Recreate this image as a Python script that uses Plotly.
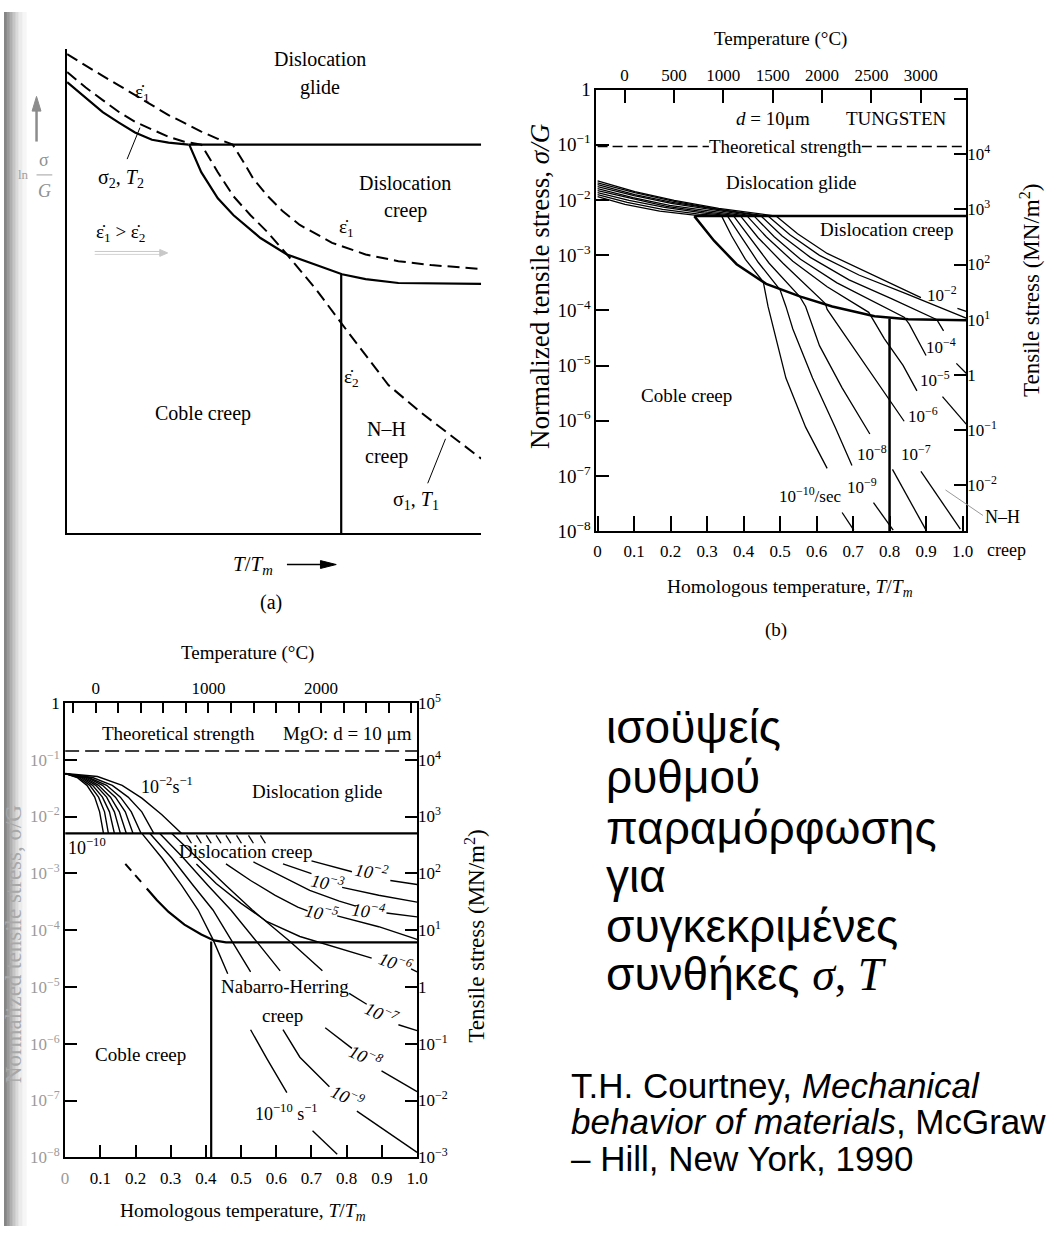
import plotly.graph_objects as go

W, H = 1060, 1237
SERIF = "Liberation Serif"
SANS = "Liberation Sans"

# ============================ DATA ============================
# ---- Panel (a): schematic map, arbitrary units (x = T/Tm, y = ln sigma/G) ----
A_GLIDE_X = [0.293, 1.0]
A_GLIDE_Y = [0.803, 0.803]
A_LOWGLIDE_X = [0, 0.045, 0.086, 0.126, 0.164, 0.205, 0.245, 0.293]
A_LOWGLIDE_Y = [0.932, 0.899, 0.870, 0.848, 0.828, 0.813, 0.807, 0.803]
A_CREEPB_X = [0.295, 0.324, 0.364, 0.402, 0.467, 0.531, 0.602, 0.664, 0.721, 0.8, 1.0]
A_CREEPB_Y = [0.803, 0.746, 0.692, 0.657, 0.610, 0.576, 0.554, 0.535, 0.525, 0.517, 0.515]
A_NHB_X = [0.662, 0.662]
A_NHB_Y = [0.0, 0.535]
A_RATE1_X = [0, 0.045, 0.086, 0.126, 0.164, 0.205, 0.245, 0.283, 0.324, 0.364, 0.4,
             0.426, 0.45, 0.483, 0.521, 0.562, 0.640, 0.721, 0.8, 0.879, 1.0]
A_RATE1_Y = [0.990, 0.966, 0.945, 0.925, 0.905, 0.884, 0.864, 0.848, 0.830, 0.815, 0.803,
             0.767, 0.732, 0.698, 0.665, 0.637, 0.600, 0.576, 0.562, 0.554, 0.546]
A_RATE2_X = [0, 0.045, 0.086, 0.126, 0.164, 0.205, 0.245, 0.283, 0.324,
             0.364, 0.402, 0.443, 0.483, 0.531, 0.602, 0.664, 0.721, 0.776, 0.855, 0.912, 1.0]
A_RATE2_Y = [0.953, 0.921, 0.895, 0.870, 0.850, 0.834, 0.819, 0.809, 0.803,
             0.746, 0.696, 0.657, 0.623, 0.576, 0.503, 0.432, 0.367, 0.306, 0.249, 0.211, 0.154]

# ---- Panel (b): tungsten, d = 10 um (x = T/Tm, e = log10 sigma/G) ----
TM_W = 3695.0            # K
LOG_G_W = 5.17           # log10 G in MN/m2
B_TEMP_TICKS = [0, 500, 1000, 1500, 2000, 2500, 3000]
B_TT_TICKS = [0, 0.1, 0.2, 0.3, 0.4, 0.5, 0.6, 0.7, 0.8, 0.9, 1.0]
B_TT_TEXT = ["0", "0.1", "0.2", "0.3", "0.4", "0.5", "0.6", "0.7", "0.8", "0.9", "1.0"]
B_GB_X = [0.265, 1.01]
B_GB_E = [-2.293, -2.293]
B_CB_X = [0.265, 0.319, 0.381, 0.462, 0.556, 0.643, 0.759, 0.851, 1.01]
B_CB_E = [-2.293, -2.738, -3.164, -3.52, -3.751, -3.929, -4.107, -4.16, -4.178]
B_NH_X = [0.8, 0.8]
B_NH_E = [-4.15, -8.0]
B_THEO_X = [[0, 0.305], [0.724, 1.01]]
B_THEO_E = -1.031
B_GLIDE_X = [
    [0, 0.075, 0.170, 0.265, 0.340],
    [0, 0.081, 0.178, 0.278, 0.356],
    [0, 0.086, 0.184, 0.292, 0.373],
    [0, 0.092, 0.189, 0.300, 0.392],
    [0, 0.097, 0.197, 0.311, 0.410],
    [0, 0.100, 0.202, 0.319, 0.429],
    [0, 0.102, 0.205, 0.324, 0.448],
    [0, 0.102, 0.210, 0.332, 0.467],
    [0, 0.102, 0.210, 0.332, 0.489],
]
B_GLIDE_E = [
    [-1.938, -2.080, -2.204, -2.276, -2.293],
    [-1.902, -2.044, -2.169, -2.258, -2.293],
    [-1.867, -2.009, -2.133, -2.240, -2.293],
    [-1.831, -1.973, -2.116, -2.222, -2.293],
    [-1.796, -1.956, -2.098, -2.204, -2.293],
    [-1.760, -1.920, -2.062, -2.187, -2.293],
    [-1.724, -1.902, -2.044, -2.169, -2.293],
    [-1.689, -1.867, -2.027, -2.169, -2.293],
    [-1.653, -1.849, -2.009, -2.151, -2.293],
]
B_UP_X = [
    [0.34, 0.367, 0.405, 0.454, 0.467, 0.484, 0.516, 0.57, 0.629],
    [0.356, 0.392, 0.44, 0.5, 0.516, 0.535, 0.589, 0.651, 0.697],
    [0.373, 0.413, 0.47, 0.554, 0.57, 0.608, 0.67, 0.746],
    [0.392, 0.44, 0.508, 0.575, 0.624, 0.629, 0.697, 0.77, 0.84],
    [0.41, 0.462, 0.535, 0.629, 0.743, 0.786, 0.837, 0.875],
    [0.429, 0.484, 0.556, 0.656, 0.84, 0.854, 0.9],
    [0.448, 0.505, 0.583, 0.689, 0.805, 0.927, 0.932, 0.948],
    [0.467, 0.527, 0.608, 0.716, 0.845, 1.01],
    [0.489, 0.548, 0.629, 0.738, 0.886],
]
B_UP_E = [
    [-2.293, -2.649, -3.076, -3.484, -3.929, -4.373, -5.227, -6.116, -6.862],
    [-2.293, -2.649, -3.129, -3.627, -3.929, -4.338, -5.227, -6.116, -6.809],
    [-2.293, -2.649, -3.147, -3.751, -3.929, -4.64, -5.404, -6.24],
    [-2.293, -2.684, -3.147, -3.573, -3.876, -3.982, -4.64, -5.351, -6.009],
    [-2.293, -2.667, -3.111, -3.573, -4.036, -4.516, -4.996, -5.458],
    [-2.293, -2.667, -3.076, -3.502, -4.124, -4.249, -4.818],
    [-2.293, -2.649, -3.04, -3.449, -3.787, -4.16, -4.196, -4.373],
    [-2.293, -2.631, -3.004, -3.36, -3.698, -4.142],
    [-2.293, -2.613, -2.969, -3.307, -3.769],
]
B_LO_X = [[0.67, 0.702], [0.756, 0.81], [0.808, 0.9], [0.886, 0.994], [0.945, 1.01],
          [0.983, 1.01], [], [], [0.986, 1.01]]
B_LO_E = [[-7.662, -7.982], [-7.484, -7.982], [-6.88, -7.982], [-6.916, -7.964], [-5.564, -6.062],
          [-4.96, -5.138], [], [], [-3.964, -4.018]]
B_RATE_LABELS = ["10<sup>−2</sup>", "10<sup>−4</sup>", "10<sup>−5</sup>", "10<sup>−6</sup>",
                 "10<sup>−7</sup>", "10<sup>−8</sup>", "10<sup>−9</sup>", "10<sup>−10</sup>/sec"]
B_RATE_LX = [0.945, 0.94, 0.924, 0.891, 0.872, 0.751, 0.724, 0.583]
B_RATE_LE = [-3.698, -4.64, -5.244, -5.902, -6.578, -6.578, -7.182, -7.342]

# ---- Panel (c): MgO, d = 10 um ----
TM_MGO = 3125.0          # K
LOG_G_MGO = 5.0
C_TEMP_LABELED = [0, 1000, 2000]
C_TEMP_MINOR = [-200, 200, 400, 600, 800, 1200, 1400, 1600, 1800, 2200, 2400, 2600, 2800]
C_THEO_X = [0, 1.0]
C_THEO_E = [-0.847, -0.847]
C_GB_X = [0, 1.0]
C_GB_E = [-2.298, -2.298]
C_CBD_X = [0.171, 0.227]
C_CBD_E = [-2.834, -3.231]
C_CB_X = [0.232, 0.261, 0.294, 0.339, 0.387, 0.423, 0.457, 1.0]
C_CB_E = [-3.266, -3.473, -3.68, -3.905, -4.078, -4.181, -4.216, -4.216]
C_NH_X = [0.415, 0.415]
C_NH_E = [-4.2, -8.0]
C_FAN_X = [
    [0, 0.034, 0.062, 0.084, 0.098, 0.109],
    [0, 0.039, 0.070, 0.095, 0.112, 0.123],
    [0, 0.045, 0.078, 0.106, 0.126, 0.140],
    [0, 0.050, 0.087, 0.118, 0.140, 0.157],
    [0, 0.056, 0.095, 0.129, 0.154, 0.174],
    [0, 0.062, 0.106, 0.143, 0.171, 0.193],
    [0, 0.067, 0.118, 0.157, 0.188, 0.216],
    [0, 0.078, 0.134, 0.179, 0.218, 0.252],
    [0, 0.092, 0.162, 0.218, 0.275, 0.331],
]
C_FAN_E = [
    [-1.244, -1.313, -1.451, -1.659, -1.918, -2.298],
    [-1.244, -1.313, -1.451, -1.659, -1.918, -2.298],
    [-1.244, -1.313, -1.451, -1.659, -1.918, -2.298],
    [-1.244, -1.313, -1.451, -1.659, -1.918, -2.298],
    [-1.244, -1.313, -1.451, -1.659, -1.918, -2.298],
    [-1.244, -1.313, -1.451, -1.659, -1.918, -2.298],
    [-1.244, -1.313, -1.451, -1.659, -1.918, -2.298],
    [-1.244, -1.313, -1.451, -1.659, -1.918, -2.298],
    [-1.244, -1.296, -1.451, -1.676, -1.970, -2.298],
]
C_HASH_X0 = [0.345, 0.373, 0.401, 0.429, 0.457, 0.487, 0.521, 0.555]
C_HASH_X1 = [0.359, 0.387, 0.415, 0.443, 0.471, 0.501, 0.535, 0.569]
C_HASH_E = [-2.333, -2.471]
C_STEEP_X = [
    [0.218, 0.275, 0.331, 0.378, 0.42, 0.462],
    [0.241, 0.303, 0.364, 0.42, 0.476, 0.527],
    [0.269, 0.336, 0.406, 0.471, 0.546, 0.611],
    [0.303, 0.375, 0.457, 0.532, 0.639, 0.731],
]
C_STEEP_E = [
    [-2.298, -2.73, -3.214, -3.646, -4.164, -4.769],
    [-2.298, -2.73, -3.214, -3.646, -4.216, -4.734],
    [-2.298, -2.73, -3.214, -3.646, -4.216, -4.717],
    [-2.298, -2.73, -3.214, -3.646, -4.199, -4.717],
]
C_SEG_X = [
    [0.373, 0.429, 0.499, 0.574, 0.667, 0.759, 0.871], [0.983, 1.0],
    [0.457, 0.527, 0.597, 0.661, 0.689], [0.773, 0.891, 1.0],
    [0.535, 0.611, 0.695, 0.779, 0.826], [0.913, 1.0],
    [0.619, 0.7], [0.787, 0.891, 1.0],
    [0.7, 0.815], [0.924, 1.0],
    [0.807, 0.857], [0.947, 1.0],
    [0.739, 0.815], [0.899, 1.0],
    [0.619, 0.667, 0.751], [0.829, 0.919, 1.0],
    [0.527, 0.574, 0.63], [0.703, 0.773],
]
C_SEG_E = [
    [-2.834, -3.179, -3.525, -3.853, -4.112, -4.285, -4.492], [-4.683, -4.734],
    [-2.834, -3.127, -3.387, -3.594, -3.663], [-3.749, -3.94, -4.164],
    [-2.799, -3.041, -3.3, -3.49, -3.577], [-3.698, -3.767],
    [-2.834, -3.006], [-3.248, -3.387, -3.508],
    [-2.782, -2.972], [-3.127, -3.197],
    [-5.114, -5.305], [-5.667, -5.771],
    [-5.719, -6.082], [-6.479, -6.842],
    [-5.754, -6.238, -6.756], [-7.188, -7.568, -7.914],
    [-5.754, -6.272, -6.86], [-7.534, -7.948],
]
C_RATE_LABELS = ["10<sup>−2</sup>", "10<sup>−3</sup>", "10<sup>−4</sup>", "10<sup>−5</sup>",
                 "10<sup>−6</sup>", "10<sup>−7</sup>", "10<sup>−8</sup>", "10<sup>−9</sup>"]
C_RATE_LX = [0.871, 0.745, 0.863, 0.728, 0.938, 0.899, 0.854, 0.801]
C_RATE_LE = [-2.972, -3.162, -3.646, -3.698, -4.562, -5.46, -6.22, -6.93]
C_RATE_ANG = [10, 12, 8, 12, 20, 25, 25, 25]

DECADES = [0, -1, -2, -3, -4, -5, -6, -7, -8]

GREEK_LINES = ["ισοϋψείς", "ρυθμού", "παραμόρφωσης", "για", "συγκεκριμένες"]
CITATION = ["T.H. Courtney, <i>Mechanical</i>", "<i>behavior of materials</i>, McGraw",
            "– Hill, New York, 1990"]

# ============================ FIGURE ============================
fig = go.Figure()
anns = []
shapes = []


def line(xs, ys, xa, ya, w=1.5, dash=None, color="black", log=False):
    yy = [10 ** v for v in ys] if log else list(ys)
    fig.add_trace(go.Scatter(x=list(xs), y=yy, mode="lines",
                             line=dict(color=color, width=w, dash=dash),
                             xaxis=xa, yaxis=ya, hoverinfo="skip", showlegend=False))


def note(text, x, y, xref, yref, size=19, angle=0, color="black", family=SERIF, xanchor="center"):
    anns.append(dict(text=text, x=x, y=y, xref=xref, yref=yref, showarrow=False,
                     font=dict(size=size, color=color, family=family), textangle=angle,
                     xanchor=xanchor, yanchor="middle"))


def pnote(text, X, Y, **kw):
    note(text, X / W, 1 - Y / H, "paper", "paper", **kw)


def P(X, Y):
    return "%.5f %.5f" % (X / W, 1 - Y / H)


def pline(x0, y0, x1, y1, color="black", width=1):
    shapes.append(dict(type="line", xref="paper", yref="paper", x0=x0 / W, y0=1 - y0 / H,
                       x1=x1 / W, y1=1 - y1 / H, line=dict(color=color, width=width)))


def ptri(pts, color):
    path = "M " + " L ".join(P(a, b) for a, b in pts) + " Z"
    shapes.append(dict(type="path", xref="paper", yref="paper", path=path,
                       fillcolor=color, line=dict(color=color, width=1)))


# page shadow at the left edge (scan binding)
for x0, x1, col in [(0, 3, "#858585"), (3, 6, "#9a9a9a"), (6, 9, "#b0b0b0"), (9, 12, "#c6c6c6"),
                    (12, 15, "#dadada"), (15, 19, "#ebebeb"), (19, 23, "#f6f6f6")]:
    shapes.append(dict(type="rect", xref="paper", yref="paper", x0=x0 / W, x1=x1 / W, y0=0, y1=1,
                       fillcolor=col, line=dict(width=0), layer="below"))

# ---------------- panel (a) ----------------
DA = "12px,6px"
line(A_GLIDE_X, A_GLIDE_Y, "x", "y", w=2.2)
line(A_LOWGLIDE_X, A_LOWGLIDE_Y, "x", "y", w=2.2)
line(A_CREEPB_X, A_CREEPB_Y, "x", "y", w=2.2)
line(A_NHB_X, A_NHB_Y, "x", "y", w=2.2)
line(A_RATE1_X, A_RATE1_Y, "x", "y", w=2, dash=DA)
line(A_RATE2_X, A_RATE2_Y, "x", "y", w=2, dash=DA)
shapes.append(dict(type="line", xref="x", yref="y", x0=0.145, y0=0.773, x1=0.176, y1=0.838,
                   line=dict(color="black", width=1)))
shapes.append(dict(type="line", xref="x", yref="y", x0=0.871, y0=0.103, x1=0.914, y1=0.195,
                   line=dict(color="black", width=1)))
EDOT = "ε\u0307"
note("Dislocation", 0.61, 0.98, "x", "y", size=20)
note("glide", 0.61, 0.921, "x", "y", size=20)
note(EDOT + "<sub>1</sub>", 0.181, 0.909, "x", "y")
note("σ<sub>2</sub>, <i>T</i><sub>2</sub>", 0.129, 0.732, "x", "y", size=20)
note("Dislocation", 0.817, 0.724, "x", "y", size=20)
note("creep", 0.817, 0.667, "x", "y", size=20)
note(EDOT + "<sub>1</sub>", 0.674, 0.631, "x", "y")
note(EDOT + "<sub>1</sub> > " + EDOT + "<sub>2</sub>", 0.129, 0.621, "x", "y")
note(EDOT + "<sub>2</sub>", 0.686, 0.32, "x", "y")
note("Coble creep", 0.329, 0.247, "x", "y", size=20)
note("N–H", 0.771, 0.215, "x", "y", size=20)
note("creep", 0.771, 0.158, "x", "y", size=20)
note("σ<sub>1</sub>, <i>T</i><sub>1</sub>", 0.843, 0.067, "x", "y", size=20)
# faint double underline arrow below the rate inequality
pline(92, 244, 160, 244, color="#c8c8c8", width=1)
pline(92, 247, 160, 247, color="#d4d4d4", width=1)
ptri([(158, 242), (166, 245.5), (158, 249)], "#c8c8c8")
pnote("<i>T</i>/<i>T<sub>m</sub></i>", 253, 563, size=21)
pline(287, 563, 324, 563, color="black", width=1.5)
ptri([(321, 559), (337, 563), (321, 567)], "black")
pnote("(a)", 271, 602, size=20)
# ln sigma/G (faint, grey)
pline(33, 132, 33, 100, color="#8c8c8c", width=2.5)
ptri([(28.5, 101), (33, 86), (37.5, 101)], "#8c8c8c")
pnote("ln", 20, 166, size=13, color="#a0a0a0")
pnote("σ", 41, 151, size=18, color="#909090")
pnote("<i>G</i>", 41, 182, size=18, color="#909090")
pline(33, 166, 49, 166, color="#a0a0a0", width=1)

# ---------------- panel (b) ----------------
line(B_GB_X, B_GB_E, "x2", "y2", w=2.5, log=True)
line(B_CB_X, B_CB_E, "x2", "y2", w=2.5, log=True)
line(B_NH_X, B_NH_E, "x2", "y2", w=2.5, log=True)
for seg in B_THEO_X:
    line(seg, [B_THEO_E, B_THEO_E], "x2", "y2", w=1.5, dash="10px,5px", log=True)
for xs, es in zip(B_GLIDE_X, B_GLIDE_E):
    line(xs, es, "x2", "y2", w=1.3, log=True)
for xs, es in zip(B_UP_X, B_UP_E):
    line(xs, es, "x2", "y2", w=1.3, log=True)
for xs, es in zip(B_LO_X, B_LO_E):
    if xs:
        line(xs, es, "x2", "y2", w=1.3, log=True)
fig.add_trace(go.Scatter(x=[None], y=[None], xaxis="x3", yaxis="y3", showlegend=False, hoverinfo="skip"))
note("<i>d</i> = 10μm", 0.48, -0.516, "x2", "y2")
note("TUNGSTEN", 0.818, -0.516, "x2", "y2")
note("Theoretical strength", 0.516, -1.04, "x2", "y2")
note("Dislocation glide", 0.529, -1.689, "x2", "y2")
note("Dislocation creep", 0.791, -2.542, "x2", "y2")
note("Coble creep", 0.243, -5.547, "x2", "y2")
for t, x, e in zip(B_RATE_LABELS, B_RATE_LX, B_RATE_LE):
    note(t, x, e, "x2", "y2", size=17)
pnote("Temperature (°C)", 788, 28, size=19)
pnote("Normalized tensile stress, <i>σ/G</i>", 543, 280, size=27, angle=-90)
pnote("Tensile stress (MN/m<sup>2</sup>)", 1041, 284, size=23, angle=-90)
pnote("Homologous temperature, <i>T</i>/<i>T<sub>m</sub></i>", 797, 587, size=19.5)
pnote("(b)", 783, 630, size=19)
pnote("N–H", 1013, 515, size=18)
pnote("creep", 1017, 548, size=18)
pline(955, 487, 993, 513, color="#999999", width=1)

# ---------------- panel (c) ----------------
line(C_THEO_X, C_THEO_E, "x4", "y4", w=1.5, dash="14px,6px", log=True)
line(C_GB_X, C_GB_E, "x4", "y4", w=2.2, log=True)
line(C_CBD_X, C_CBD_E, "x4", "y4", w=2.0, dash="9px,6px", log=True)
line(C_CB_X, C_CB_E, "x4", "y4", w=2.2, log=True)
line(C_NH_X, C_NH_E, "x4", "y4", w=2.2, log=True)
for xs, es in zip(C_FAN_X, C_FAN_E):
    line(xs, es, "x4", "y4", w=1.4, log=True)
for a, b in zip(C_HASH_X0, C_HASH_X1):
    line([a, b], C_HASH_E, "x4", "y4", w=1.3, log=True)
for xs, es in zip(C_STEEP_X, C_STEEP_E):
    line(xs, es, "x4", "y4", w=1.4, log=True)
for xs, es in zip(C_SEG_X, C_SEG_E):
    line(xs, es, "x4", "y4", w=1.4, log=True)
fig.add_trace(go.Scatter(x=[None], y=[None], xaxis="x5", yaxis="y5", showlegend=False, hoverinfo="skip"))
note("Theoretical strength", 0.322, -0.536, "x4", "y4")
note("MgO: d = 10 μm", 0.801, -0.536, "x4", "y4")
note("10<sup>−2</sup>s<sup>−1</sup>", 0.289, -1.451, "x4", "y4", size=18)
note("Dislocation glide", 0.717, -1.555, "x4", "y4")
note("10<sup>−10</sup>", 0.062, -2.523, "x4", "y4", size=18)
note("Dislocation creep", 0.513, -2.609, "x4", "y4")
note("Nabarro-Herring", 0.625, -4.994, "x4", "y4")
note("creep", 0.619, -5.495, "x4", "y4")
note("Coble creep", 0.213, -6.186, "x4", "y4")
note("10<sup>−10</sup> s<sup>−1</sup>", 0.63, -7.205, "x4", "y4", size=18)
for t, x, e, a in zip(C_RATE_LABELS, C_RATE_LX, C_RATE_LE, C_RATE_ANG):
    note("<i>" + t + "</i>", x, e, "x4", "y4", size=18, angle=a)
pnote("Temperature (°C)", 247, 653, size=19)
pnote("Tensile stress (MN/m<sup>2</sup>)", 478, 942, size=23, angle=-90)
pnote("Homologous temperature, <i>T</i>/<i>T<sub>m</sub></i>", 242, 1223, size=19.5)
pnote("Normalized tensile stress, σ/G", 9, 950, size=23, angle=-90, color="#a8a8a8")

# ---------------- text block ----------------
GREEK_Y = [729, 779, 831, 880, 931]
for t, y in zip(GREEK_LINES, GREEK_Y):
    pnote(t, 609, y, size=46, family=SANS, xanchor="left")
pnote("συνθήκες <span style=\"font-family:Liberation Serif\"><i>σ</i>, <i>T</i></span>", 609, 980,
      size=46, family=SANS, xanchor="left")
for t, y in zip(CITATION, [1094, 1131, 1168]):
    pnote(t, 573, y, size=35, family=SANS, xanchor="left")


# ---------------- axes ----------------
def ax(**kw):
    d = dict(showgrid=False, zeroline=False, linecolor="black", tickcolor="black",
             tickfont=dict(family=SERIF, size=17, color="black"))
    d.update(kw)
    return d


def sup(k):
    return "1" if k == 0 else "10<sup>" + ("−" if k < 0 else "") + str(abs(k)) + "</sup>"


def grey(s):
    return '<span style="color:#9a9a9a">' + s + "</span>"


layout = dict(
    width=W, height=H, autosize=False, margin=dict(l=0, r=0, t=0, b=0),
    paper_bgcolor="white", plot_bgcolor="rgba(0,0,0,0)", showlegend=False,
    font=dict(family=SERIF, color="black"),
    xaxis=ax(domain=[64 / W, 484 / W], range=[0, 1], anchor="y", showline=True, linewidth=2,
             showticklabels=False, ticks=""),
    yaxis=ax(domain=[1 - 531 / H, 1 - 38 / H], range=[0, 1], anchor="x", showline=True, linewidth=2,
             showticklabels=False, ticks=""),
    xaxis2=ax(domain=[601 / W, 976 / W], range=[-0.003, 1.01], anchor="y2", showline=True, mirror=True,
              linewidth=2, ticks="inside", ticklen=15, tickwidth=1.5, tickvals=B_TT_TICKS,
              ticktext=B_TT_TEXT, ticklabelstandoff=3),
    yaxis2=ax(domain=[1 - 529 / H, 1 - 79 / H], type="log", range=[-8, 0], anchor="x2", showline=True,
              mirror=True, linewidth=2, ticks="inside", ticklen=13, tickwidth=1.5,
              tickvals=[10 ** k for k in DECADES], ticktext=[sup(k) for k in DECADES],
              tickfont=dict(family=SERIF, size=19, color="black")),
    xaxis3=ax(overlaying="x2", side="top", anchor="y2", range=[-0.003 * TM_W - 273, 1.01 * TM_W - 273],
              ticks="inside", ticklen=13, tickwidth=1.5, tickvals=B_TEMP_TICKS,
              ticktext=[str(t) for t in B_TEMP_TICKS], showline=False, ticklabelstandoff=4),
    yaxis3=ax(overlaying="y2", side="right", anchor="x2", type="log",
              range=[LOG_G_W - 8, LOG_G_W], ticks="inside", ticklen=12, tickwidth=1.5,
              tickvals=[10 ** k for k in range(4, -3, -1)],
              ticktext=[sup(k) for k in range(4, -3, -1)], showline=False,
              minor=dict(tickvals=[1e5], ticks="inside", ticklen=12, tickwidth=1.5,
                         tickcolor="black", showgrid=False)),
    xaxis4=ax(domain=[62 / W, 419 / W], range=[0, 1], anchor="y4", showline=True, mirror=True,
              linewidth=2, ticks="inside", ticklen=12, tickwidth=1.5, tickvals=B_TT_TICKS,
              ticktext=[grey("0")] + B_TT_TEXT[1:], ticklabelstandoff=4),
    yaxis4=ax(domain=[1 - 1167 / H, 1 - 704 / H], type="log", range=[-8, 0], anchor="x4", showline=True,
              mirror=True, linewidth=2, ticks="inside", ticklen=12, tickwidth=1.5,
              tickvals=[10 ** k for k in DECADES],
              ticktext=["1"] + [grey(sup(k)) for k in DECADES[1:]]),
    xaxis5=ax(overlaying="x4", side="top", anchor="y4", range=[-273, TM_MGO - 273],
              ticks="inside", ticklen=10, tickwidth=1.5, tickvals=C_TEMP_LABELED,
              ticktext=[str(t) for t in C_TEMP_LABELED], showline=False, ticklabelstandoff=5,
              minor=dict(tickvals=C_TEMP_MINOR, ticks="inside", ticklen=10, tickwidth=1.5,
                         tickcolor="black", showgrid=False)),
    yaxis5=ax(overlaying="y4", side="right", anchor="x4", type="log",
              range=[LOG_G_MGO - 8, LOG_G_MGO], ticks="inside", ticklen=12, tickwidth=1.5,
              tickvals=[10 ** k for k in range(5, -4, -1)],
              ticktext=[sup(k) for k in range(5, -4, -1)], showline=False),
    annotations=anns,
    shapes=shapes,
)
fig.update_layout(**layout)
fig.write_html("out.html", config={"displayModeBar": False})
